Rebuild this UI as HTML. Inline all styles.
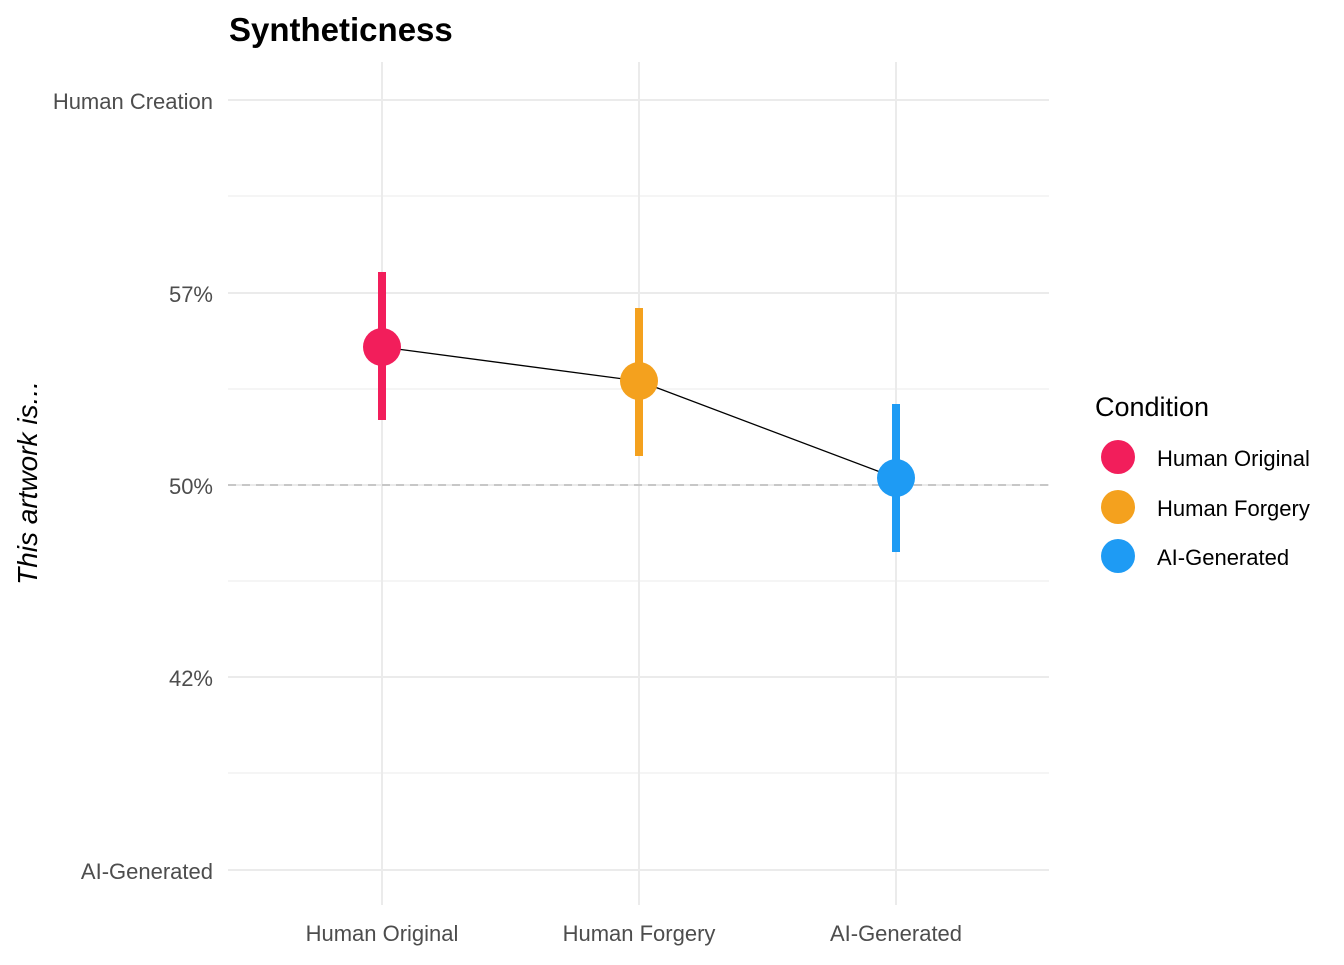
<!DOCTYPE html>
<html><head><meta charset="utf-8"><style>body{margin:0;background:#fff}</style></head>
<body>
<svg width="1344" height="960" xmlns="http://www.w3.org/2000/svg" font-family="Liberation Sans, Arial, sans-serif">
<rect width="1344" height="960" fill="#fff"/>
<g stroke="#ebebeb" stroke-width="1">
<line x1="228" x2="1049" y1="196" y2="196"/><line x1="228" x2="1049" y1="389" y2="389"/>
<line x1="228" x2="1049" y1="581" y2="581"/><line x1="228" x2="1049" y1="773" y2="773"/>
</g>
<g stroke="#ebebeb" stroke-width="2">
<line x1="228" x2="1049" y1="100" y2="100"/><line x1="228" x2="1049" y1="293" y2="293"/>
<line x1="228" x2="1049" y1="677" y2="677"/><line x1="228" x2="1049" y1="870" y2="870"/>
<line x1="228" x2="1049" y1="485" y2="485"/>
<line x1="382" x2="382" y1="62" y2="905"/><line x1="639" x2="639" y1="62" y2="905"/><line x1="896" x2="896" y1="62" y2="905"/>
</g>
<line x1="228" x2="1049" y1="485" y2="485" stroke="#bbb" stroke-width="1.5" stroke-dasharray="8,6"/>
<polyline points="382,347 639,381 896,478" fill="none" stroke="#000" stroke-width="1.3"/>
<line x1="382" x2="382" y1="272" y2="420" stroke="#F21E5B" stroke-width="8"/>
<line x1="639" x2="639" y1="308" y2="456" stroke="#F4A11E" stroke-width="8"/>
<line x1="896" x2="896" y1="404" y2="552" stroke="#1E9BF4" stroke-width="8"/>
<circle cx="382" cy="347" r="19" fill="#F21E5B"/>
<circle cx="639" cy="381" r="19" fill="#F4A11E"/>
<circle cx="896" cy="478" r="19" fill="#1E9BF4"/>
<g fill="#4d4d4d" font-size="22" text-anchor="end">
<text x="213" y="109">Human Creation</text><text x="213" y="302">57%</text>
<text x="213" y="494">50%</text><text x="213" y="686">42%</text><text x="213" y="879">AI-Generated</text>
</g>
<g fill="#4d4d4d" font-size="22" text-anchor="middle">
<text x="382" y="941">Human Original</text><text x="639" y="941">Human Forgery</text><text x="896" y="941">AI-Generated</text>
</g>
<text x="229" y="41" font-size="33" font-weight="bold">Syntheticness</text>
<text transform="translate(37,483) rotate(-90)" font-size="28" font-style="italic" text-anchor="middle">This artwork is...</text>
<text x="1095" y="416" font-size="27">Condition</text>
<circle cx="1118" cy="457" r="17" fill="#F21E5B"/><circle cx="1118" cy="507" r="17" fill="#F4A11E"/><circle cx="1118" cy="556" r="17" fill="#1E9BF4"/>
<g font-size="22"><text x="1157" y="466">Human Original</text><text x="1157" y="516">Human Forgery</text><text x="1157" y="565">AI-Generated</text></g>
</svg>
</body></html>
